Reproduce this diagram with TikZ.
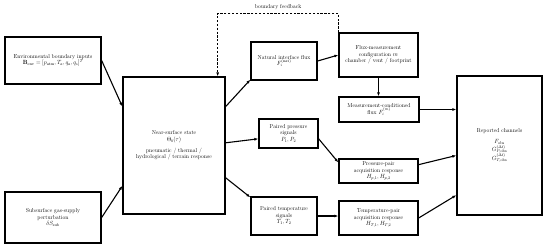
\documentclass[tikz,border=0pt]{standalone}
\usetikzlibrary{arrows.meta}

% drawn at 2pt per pixel of the 550x248 layout
\tikzset{
  blk/.style={draw=black, line width=2.6pt, align=center, inner sep=2pt,
    font=\fontsize{11.5}{13}\selectfont},
  flow/.style={line width=2.2pt, -{Latex[length=8pt,width=6pt]}},
  fb/.style={line width=2.2pt, dash pattern=on 4.5pt off 3.2pt, -{Latex[length=8pt,width=6pt]}}
}

\begin{document}
\begin{tikzpicture}[x=2pt, y=-2pt]
\useasboundingbox (0,0) rectangle (550,248);

% sources
\node[blk, minimum width=192pt, minimum height=94pt] (env) at (53,60.5)
  {Environmental boundary inputs\\ $\mathbf{B}_{\mathrm{env}}=[p_{\mathrm{atm}},T_a,q_a,q_s]^T$};
\node[blk, minimum width=192pt, minimum height=102pt] (sub) at (53,217.5)
  {Subsurface gas-supply\\ perturbation\\ $\delta S_{\mathrm{sub}}$};

% state
\node[blk, minimum width=204pt, minimum height=274pt] (near) at (174,145.5)
  {Near-surface state\\ $\Theta_b(\tau)$\\[9pt] pneumatic / thermal /\\ hydrological / terrain response};

% signals
\node[blk, minimum width=132pt, minimum height=76pt] (nat) at (284,61)
  {Natural interface flux\\ $F_i^{(\mathrm{nat})}$};
\node[blk, minimum width=118pt, minimum height=58pt] (pp) at (288.5,133.5)
  {Paired pressure\\ signals\\ $P_1, P_2$};
\node[blk, minimum width=132pt, minimum height=76pt] (pt) at (284,216)
  {Paired temperature\\ signals\\ $T_1, T_2$};

% acquisition
\node[blk, minimum width=158pt, minimum height=88pt] (cfg) at (378.5,55)
  {Flux-measurement\\ configuration $m$\\ chamber / vent / footprint};
\node[blk, minimum width=160pt, minimum height=50pt] (meas) at (379,109.5)
  {Measurement-conditioned\\ flux $F_i^{(m)}$};
\node[blk, minimum width=158pt, minimum height=48pt] (pacq) at (378.5,171)
  {Pressure-pair\\ acquisition response\\ $H_{p,1}, H_{p,2}$};
\node[blk, minimum width=158pt, minimum height=68pt] (tacq) at (378.5,218)
  {Temperature-pair\\ acquisition response\\ $H_{T,1}, H_{T,2}$};

% output
\node[blk, minimum width=170pt, minimum height=278pt] (rep) at (499.5,145.5)
  {Reported channels\\[9pt] $F_{\mathrm{obs}}$\\ $G^{(\Delta t)}_{P,\mathrm{obs}}$\\ $G^{(\Delta t)}_{T,\mathrm{obs}}$};

\draw[flow] (env.east) -- (near.143);
\draw[flow] (sub.east) -- (near.218);

\draw[flow] (near.37) -- (nat.209);
\draw[flow] (near.3) -- (pp.190);
\draw[flow] (near.328) -- (pt.151);

\draw[flow] (nat.east) -- (cfg.west);
\draw[flow] (cfg.south) -- (cfg.south |- meas.north);
\draw[flow] (pp.350) -- (pacq.168);
\draw[flow] (pt.east) -- (pt.east -| tacq.west);

\draw[flow] (meas.east) -- (meas.east -| rep.west);
\draw[flow] (pacq.9) -- (rep.193);
\draw[flow] (tacq.east) -- (rep.229);

% feedback loop
\draw[fb] (cfg.north west) -- ++(0,-19) -| ([xshift=-16pt]near.north east)
  node[pos=0.25, above=2pt, font=\fontsize{11.5}{13}\selectfont] (fblab) {boundary feedback};

\end{tikzpicture}
\end{document}
